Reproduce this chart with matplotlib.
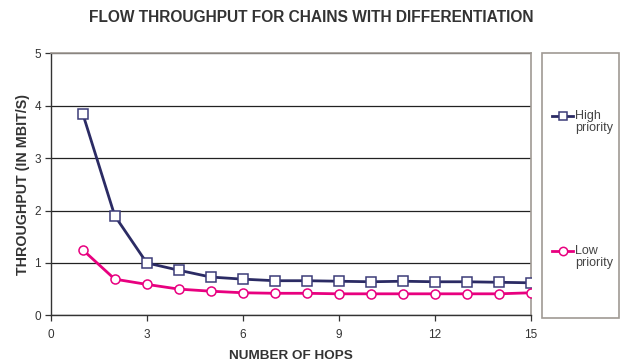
import matplotlib
matplotlib.use("Agg")
import matplotlib.pyplot as plt
from matplotlib.lines import Line2D
from matplotlib.patches import Rectangle

hops = list(range(1, 16))
high_priority = [3.85, 1.90, 1.00, 0.86, 0.73, 0.69, 0.66, 0.66, 0.65, 0.64, 0.65, 0.64, 0.64, 0.63, 0.62]
low_priority = [1.25, 0.69, 0.59, 0.50, 0.46, 0.43, 0.42, 0.42, 0.41, 0.41, 0.41, 0.41, 0.41, 0.41, 0.43]
series_labels = ["High\npriority", "Low\npriority"]
x_ticks = [0, 3, 6, 9, 12, 15]
y_ticks = [0, 1, 2, 3, 4, 5]

font = "Liberation Sans"
W, H = 621, 363
fig = plt.figure(figsize=(W / 100, H / 100), dpi=100)
fig.patch.set_facecolor("white")

left, right, top, bottom = 50.7, 531, 53.3, 315.3
ax = fig.add_axes([left / W, 1 - bottom / H, (right - left) / W, (bottom - top) / H])

navy = "#2b2b64"
navy_edge = "#3c3c78"
pink = "#e8007f"
styles = [
    dict(color=navy, marker="s", mec=navy_edge),
    dict(color=pink, marker="o", mec=pink),
]

for vals, st, lab in zip([high_priority, low_priority], styles, series_labels):
    ax.plot(hops, vals, color=st["color"], lw=2, marker=st["marker"], ms=6.5,
            mfc="white", mec=st["mec"], mew=1.1, label=lab, zorder=3)

ax.set_xlim(0, 15)
ax.set_ylim(0, 5)
ax.set_xticks(x_ticks)
ax.set_yticks(y_ticks)
ax.yaxis.grid(True, color="#222222", lw=0.9)
ax.set_axisbelow(True)

for s in ("left", "bottom"):
    ax.spines[s].set_color("#333333")
    ax.spines[s].set_linewidth(1.0)
for s in ("top", "right"):
    ax.spines[s].set_color("#a09a94")
    ax.spines[s].set_linewidth(1.2)

ax.tick_params(axis="both", direction="out", length=4, width=0.9, color="#333333",
               labelsize=8.5, labelcolor="#333333")
for lab in ax.get_xticklabels() + ax.get_yticklabels():
    lab.set_family(font)
ax.tick_params(axis="x", pad=6)
ax.tick_params(axis="y", pad=3)

ax.set_xlabel("NUMBER OF HOPS", family=font, fontweight="bold", fontsize=9.7,
              color="#333333", labelpad=6)
ax.set_ylabel("THROUGHPUT (IN MBIT/S)", family=font, fontweight="bold", fontsize=10.3,
              color="#333333", labelpad=3)
fig.text(311 / W, 1 - 17 / H, "FLOW THROUGHPUT FOR CHAINS WITH DIFFERENTIATION",
         family=font, fontweight="bold", fontsize=11.2, color="#333333",
         ha="center", va="center")

# legend panel
lx0, lx1, ly0, ly1 = 542, 619, 53, 318
fig.patches.append(Rectangle((lx0 / W, 1 - ly1 / H), (lx1 - lx0) / W, (ly1 - ly0) / H,
                             transform=fig.transFigure, facecolor="white",
                             edgecolor="#a09a94", lw=1.2))
entry_rows = [116, 251]
for row, st, lab in zip(entry_rows, styles, series_labels):
    yf = 1 - row / H
    fig.add_artist(Line2D([552 / W, 573 / W], [yf, yf], transform=fig.transFigure,
                          color=st["color"], lw=2))
    fig.add_artist(Line2D([562.5 / W], [yf], transform=fig.transFigure,
                          marker=st["marker"], ms=6, mfc="white", mec=st["mec"], mew=1.1,
                          ls="none"))
    fig.text(575 / W, yf + 6 / H, lab, family=font, fontsize=9, color="#444444",
             ha="left", va="top", linespacing=1.0)

fig.savefig("out.png", dpi=100)
